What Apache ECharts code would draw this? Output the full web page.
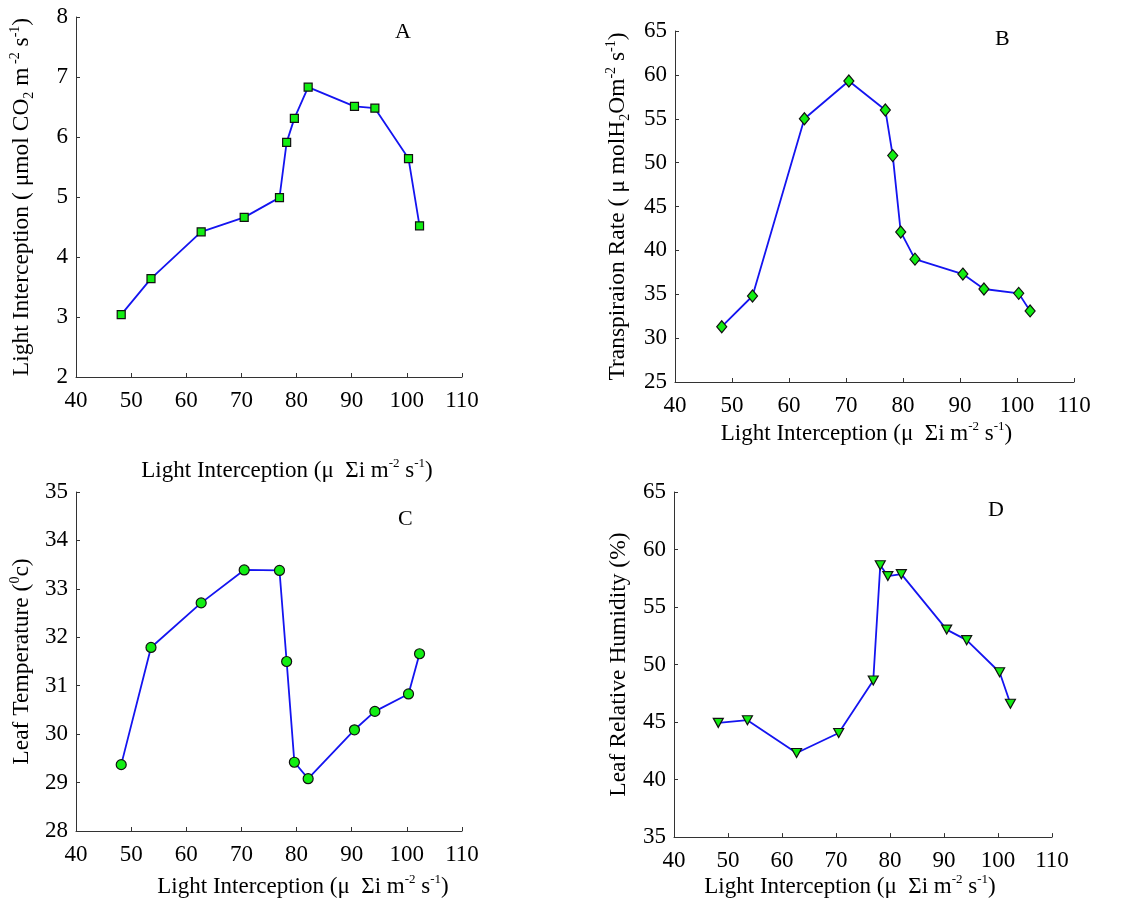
<!DOCTYPE html>
<html>
<head>
<meta charset="utf-8">
<script src="https://cdn.jsdelivr.net/npm/echarts@6/dist/echarts.min.js"></script>
<style>
html,body{margin:0;padding:0;background:#fff;}
#chart{width:1143px;height:899px;}
</style>
</head>
<body>
<div id="chart"></div>
<script>
// Shared x values: light interception
const lightX = [48.2, 53.6, 62.7, 70.5, 76.9, 78.2, 79.6, 82.1, 90.5, 94.2, 100.3, 102.3];
// Panel A: photosynthesis
const photoA = [3.04, 3.64, 4.42, 4.66, 4.99, 5.91, 6.31, 6.83, 6.51, 6.48, 5.64, 4.52];
// Panel B: transpiration rate
const transB = [31.3, 34.8, 55.0, 59.3, 56.0, 50.8, 42.1, 39.0, 37.3, 35.6, 35.1, 33.1];
// Panel C: leaf temperature
const tempC = [29.37, 31.79, 32.71, 33.39, 33.38, 31.50, 29.42, 29.08, 30.09, 30.47, 30.83, 31.66];
// Panel D: leaf relative humidity
const humD = [44.93, 45.16, 42.31, 44.05, 48.61, 58.63, 57.69, 57.86, 53.04, 52.12, 49.33, 46.59];

const panelLabels = ['A', 'B', 'C', 'D'];
const xTitle = 'Light Interception (\u03bc  \u03a3i m{sup|-2} s{sup|-1})';
const yTitles = [
  'Light Interception (\u00a0\u03bcmol CO{sub|2} m{sup|\u00a0-2} s{sup|-1})',
  'Transpiraion Rate (\u00a0\u03bc molH{sub|2}Om{sup|-2} s{sup|-1})',
  'Leaf Temperature ({sup|0}{base|c})',
  'Leaf Relative Humidity (%)'
];
const yRanges = [[2, 8, 1], [25, 65, 5], [28, 35, 1], [35, 65, 5]];
const xTicks = [40, 110, 10];
const seriesData = [photoA, transB, tempC, humD];

const FONT = '"Liberation Serif", "Times New Roman", serif';
const grids = [
  {left: 76, top: 17, width: 386, height: 360},
  {left: 675, top: 31, width: 399, height: 351},
  {left: 76, top: 492, width: 386, height: 342},
  {left: 674, top: 492, width: 378, height: 351}
];
const xNameGap = [80, 38, 42, 35];
const xNameShift = [18, -8, 34, -13];
const yNameGap = [40, 43, 40, 41];
const symbols = ['rect', 'diamond', 'circle', 'triangle'];
const symbolSizes = [8, [10, 12], 10, [10, 9]];
const symbolRotate = [0, 0, 0, 180];
const labelPos = [[403, 33], [1003, 40], [406, 520], [996, 511]];

function makeRich(fs) {
  return {
    base: {fontFamily: FONT, fontSize: fs, color: '#000', lineHeight: fs + 4, verticalAlign: 'middle'},
    sup: {fontFamily: FONT, fontSize: Math.round(fs * 0.58), color: '#000', verticalAlign: 'top', lineHeight: fs + 4},
    sub: {fontFamily: FONT, fontSize: Math.round(fs * 0.58), color: '#000', verticalAlign: 'bottom', lineHeight: fs + 4}
  };
}
const richX = makeRich(23);
const richY = makeRich(23.5);

function wrapBase(s) {
  const parts = s.split(/(\{[a-z]+\|[^}]*\})/);
  return parts.map(p => p.startsWith('{') ? p : (p ? '{base|' + p + '}' : '')).join('');
}

const xAxes = [], yAxes = [], series = [];
for (let i = 0; i < 4; i++) {
  xAxes.push({
    type: 'value', gridIndex: i, min: xTicks[0], max: xTicks[1], interval: xTicks[2],
    name: wrapBase(xTitle), nameLocation: 'middle', nameGap: xNameGap[i],
    nameTextStyle: {rich: richX, padding: xNameShift[i] >= 0 ? [0, 0, 0, 2 * xNameShift[i]] : [0, -2 * xNameShift[i], 0, 0]},
    axisLine: {show: true, lineStyle: {color: '#333', width: 1}},
    axisTick: {show: true, inside: true, length: 4, lineStyle: {color: '#333'}},
    axisLabel: {color: '#000', fontFamily: FONT, fontSize: 23, margin: 12},
    splitLine: {show: false}
  });
  yAxes.push({
    type: 'value', gridIndex: i, min: yRanges[i][0], max: yRanges[i][1], interval: yRanges[i][2],
    name: wrapBase(yTitles[i]), nameLocation: 'middle', nameGap: yNameGap[i], nameRotate: 90,
    nameTextStyle: {rich: richY},
    axisLine: {show: true, lineStyle: {color: '#333', width: 1}},
    axisTick: {show: true, inside: true, length: 4, lineStyle: {color: '#333'}},
    axisLabel: {color: '#000', fontFamily: FONT, fontSize: 23, margin: 8},
    splitLine: {show: false}
  });
  series.push({
    type: 'line', xAxisIndex: i, yAxisIndex: i,
    data: lightX.map((x, k) => [x, seriesData[i][k]]),
    symbol: symbols[i], symbolSize: symbolSizes[i], symbolRotate: symbolRotate[i],
    showAllSymbol: true,
    lineStyle: {color: '#1414f0', width: 1.8},
    itemStyle: {color: '#12ee12', borderColor: '#111', borderWidth: 1.2},
    animation: false, z: 3
  });
}

const graphics = panelLabels.map((t, i) => ({
  type: 'text', left: labelPos[i][0] - 8, top: labelPos[i][1] - 12,
  style: {text: t, font: '22px ' + FONT, fill: '#000'}
}));

const chart = echarts.init(document.getElementById('chart'));
chart.setOption({
  backgroundColor: '#fff',
  animation: false,
  grid: grids,
  xAxis: xAxes,
  yAxis: yAxes,
  series: series,
  graphic: graphics
});
</script>
</body>
</html>
